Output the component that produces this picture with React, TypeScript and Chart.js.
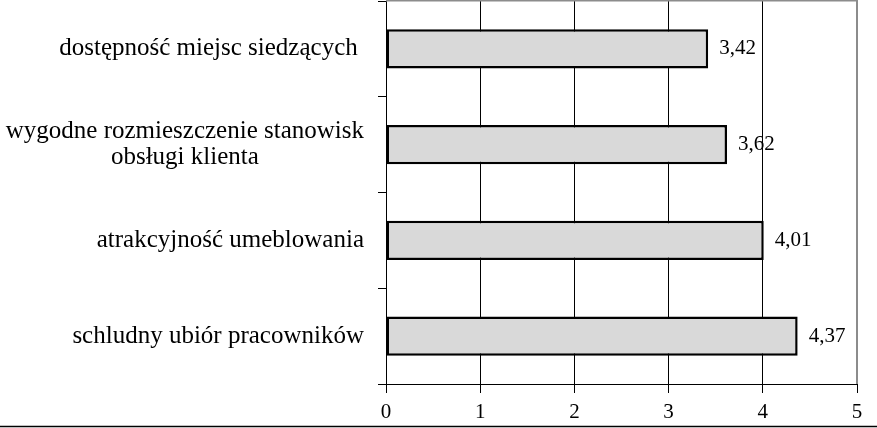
import { useEffect, useRef } from "react";
import { Chart, registerables } from "chart.js";

Chart.register(...registerables);

// categories, top to bottom (multi-line labels as arrays)
const categories: string[][] = [
  ["dostępność miejsc siedzących "],
  ["wygodne rozmieszczenie stanowisk", "obsługi klienta"],
  ["atrakcyjność umeblowania"],
  ["schludny ubiór pracowników"],
];
const values = [3.42, 3.62, 4.01, 4.37];
const xTicks = [0, 1, 2, 3, 4, 5];

const FONT = "'Liberation Serif', 'Times New Roman', serif";

// category labels: each label block right-aligned, its lines centred on each other
const categoryLabels = {
  id: "categoryLabels",
  afterDraw(chart: Chart) {
    const ctx = chart.ctx;
    const yScale = chart.scales.y;
    const right = chart.chartArea.left - 22;
    const lineHeight = 26;
    ctx.save();
    ctx.font = `25px ${FONT}`;
    ctx.fillStyle = "#000";
    ctx.textAlign = "center";
    ctx.textBaseline = "middle";
    categories.forEach((lines, i) => {
      const widest = Math.max(...lines.map((l) => ctx.measureText(l).width));
      const cx = right - widest / 2;
      const cy = yScale.getPixelForValue(i);
      const start = cy - ((lines.length - 1) * lineHeight) / 2;
      lines.forEach((l, j) => ctx.fillText(l, cx, start + j * lineHeight));
    });
    ctx.restore();
  },
};

// value labels next to the bar ends, decimal comma
const valueLabels = {
  id: "valueLabels",
  afterDatasetsDraw(chart: Chart) {
    const ctx = chart.ctx;
    const meta = chart.getDatasetMeta(0);
    ctx.save();
    ctx.font = `21px ${FONT}`;
    ctx.fillStyle = "#000";
    ctx.textAlign = "left";
    ctx.textBaseline = "middle";
    meta.data.forEach((bar: any, i) => {
      ctx.fillText(values[i].toFixed(2).replace(".", ","), bar.x + 11, bar.y);
    });
    ctx.restore();
  },
};

// grey plot frame (top, right) and the black rule along the bottom of the figure
const frame = {
  id: "frame",
  afterDraw(chart: Chart) {
    const { ctx, chartArea, width, height } = chart;
    ctx.save();
    ctx.strokeStyle = "#8c8c8c";
    ctx.lineWidth = 2;
    ctx.beginPath();
    ctx.moveTo(chartArea.left, 0.5);
    ctx.lineTo(chartArea.right, 0.5);
    ctx.moveTo(chartArea.right, 0);
    ctx.lineTo(chartArea.right, chartArea.bottom);
    ctx.stroke();
    ctx.strokeStyle = "#000";
    ctx.lineWidth = 1.5;
    ctx.beginPath();
    ctx.moveTo(0, height - 1.5);
    ctx.lineTo(width, height - 1.5);
    ctx.stroke();
    ctx.restore();
  },
};

export default function App() {
  const canvasRef = useRef<HTMLCanvasElement | null>(null);
  const chartRef = useRef<Chart | null>(null);

  useEffect(() => {
    document.body.style.margin = "0";
    if (!canvasRef.current) return;
    if (chartRef.current) chartRef.current.destroy();

    chartRef.current = new Chart(canvasRef.current, {
      type: "bar",
      data: {
        labels: categories.map((c) => c.join(" ")),
        datasets: [
          {
            data: values,
            backgroundColor: "#d9d9d9",
            borderColor: "#000",
            borderWidth: 2.5,
            borderSkipped: false,
            categoryPercentage: 1,
            barPercentage: 0.41,
          },
        ],
      },
      options: {
        indexAxis: "y",
        responsive: false,
        animation: false,
        layout: { padding: { top: 1, right: 20, left: 0, bottom: 0 } },
        plugins: {
          legend: { display: false },
          tooltip: { enabled: false },
        },
        scales: {
          x: {
            type: "linear",
            min: xTicks[0],
            max: xTicks[xTicks.length - 1],
            afterBuildTicks: (scale: any) => {
              scale.ticks = xTicks.map((v) => ({ value: v }));
            },
            afterFit: (scale: any) => {
              scale.height = 44;
            },
            grid: {
              color: "#000",
              lineWidth: 1,
              drawTicks: true,
              tickLength: 9,
            },
            border: { color: "#000", width: 1 },
            ticks: {
              color: "#000",
              font: { family: FONT, size: 21 },
              padding: 7,
            },
          },
          y: {
            type: "category",
            offset: true,
            afterFit: (scale: any) => {
              scale.width = 386;
            },
            grid: {
              offset: true,
              drawOnChartArea: false,
              drawTicks: true,
              tickLength: 8,
              color: "#000",
            },
            border: { color: "#000", width: 1 },
            ticks: { display: false },
          },
        },
      },
      plugins: [valueLabels, categoryLabels, frame],
    });

    return () => {
      if (chartRef.current) {
        chartRef.current.destroy();
        chartRef.current = null;
      }
    };
  }, []);

  return (
    <div style={{ width: 877, height: 428 }}>
      <canvas ref={canvasRef} width={877} height={428} />
    </div>
  );
}
